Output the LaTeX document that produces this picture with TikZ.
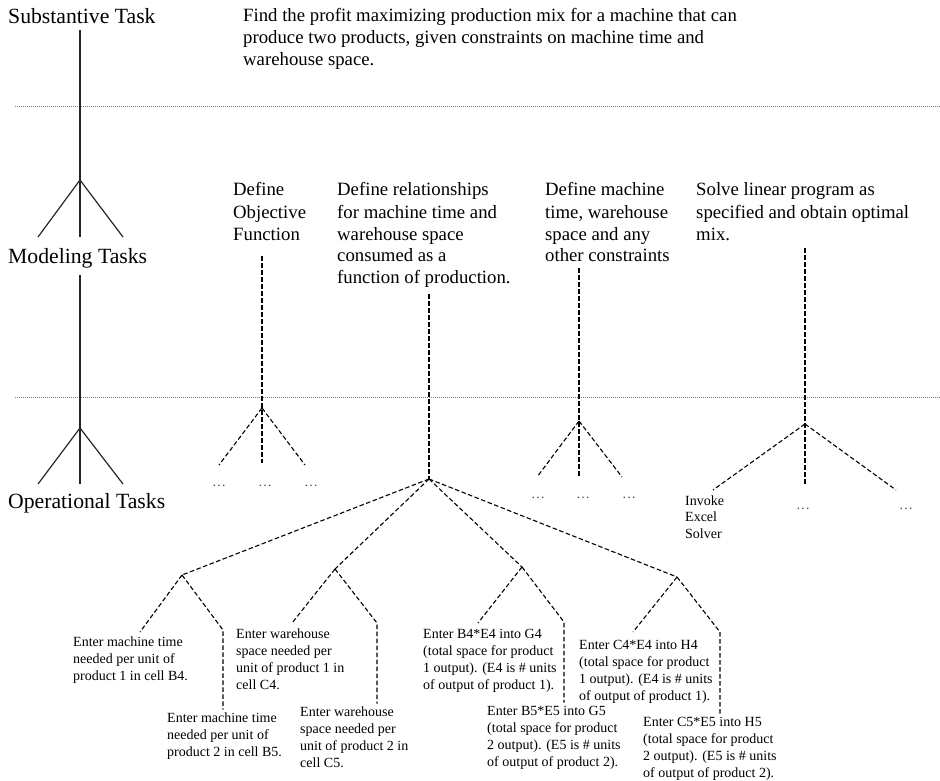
\documentclass[tikz,border=0pt]{standalone}
\usepackage{fontspec}
\setmainfont{Liberation Serif}
\newcommand\stackedlines[1]{\begin{tabular}[t]{@{}l@{}}#1\end{tabular}}
\begin{document}
\begin{tikzpicture}[x=1pt,y=-1pt,
  bigl/.style={font=\fontsize{21.7}{26}\selectfont, inner sep=0pt, anchor=base west},
  midl/.style={font=\fontsize{18.75}{22}\selectfont, inner sep=0pt, anchor=base west},
  smalll/.style={font=\fontsize{14}{17.3}\selectfont, inner sep=0pt, anchor=base west},
  invl/.style={font=\fontsize{14}{16.7}\selectfont, inner sep=0pt, anchor=base west},
  dotsl/.style={font=\fontsize{14}{17}\selectfont, inner sep=0pt, anchor=base, text=black!70},
  solidln/.style={line width=1.2pt, draw=black!85},
  dashln/.style={line width=1.1pt, dash pattern=on 4.5pt off 2.5pt},
  sepln/.style={line width=0.9pt, draw=black!50, dash pattern=on 1pt off 1pt}]

\useasboundingbox (0,0) rectangle (940,781);

% level labels
\node[bigl] (lblSub) at (8,24) {Substantive Task};
\node[bigl] (lblMod) at (8,263) {Modeling Tasks};
\node[bigl] (lblOp)  at (8,508) {Operational Tasks};

% level separators
\coordinate (sepA1) at (15,106);  \coordinate (sepA2) at (940,106);
\coordinate (sepB1) at (15,397);  \coordinate (sepB2) at (940,397);
\draw[sepln] (sepA1) -- (sepA2);
\draw[sepln] (sepB1) -- (sepB2);

% hierarchy legend on the left
\coordinate (sTop) at (80,30);   \coordinate (sApex) at (80,180);
\coordinate (sL) at (38,237);    \coordinate (sM) at (80,237);   \coordinate (sR) at (123,237);
\coordinate (mTop) at (80,275);  \coordinate (mApex) at (80,428);
\coordinate (mL) at (38,484);    \coordinate (mM) at (80,484);   \coordinate (mR) at (123,484);
\draw[solidln] (sTop) -- (sApex) -- (sM);
\draw[solidln] (sApex) -- (sL);
\draw[solidln] (sApex) -- (sR);
\draw[solidln] (mTop) -- (mApex) -- (mM);
\draw[solidln] (mApex) -- (mL);
\draw[solidln] (mApex) -- (mR);

% substantive task
\node[midl] (task) at (243,22) {\stackedlines{Find the profit maximizing production mix for a machine that can\\
produce two products, given constraints on machine time and\\
warehouse space.}};

% modeling tasks
\node[midl] (defObj) at (233,196) {\stackedlines{Define\\ Objective\\ Function}};
\node[midl] (defRel) at (337,196) {\stackedlines{Define relationships\\ for machine time and\\ warehouse space\\ consumed as a\\ function of production.}};
\node[midl] (defCon) at (545,196) {\stackedlines{Define machine\\ time, warehouse\\ space and any\\ other constraints}};
\node[midl] (solve)  at (696,196) {\stackedlines{Solve linear program as\\ specified and obtain optimal\\ mix.}};

% objective function branch
\coordinate (oTop) at (262,256); \coordinate (oApex) at (262,408);
\coordinate (oL) at (219,465);   \coordinate (oM) at (262,463);  \coordinate (oR) at (305,465);
\draw[dashln] (oTop) -- (oApex) -- (oM);
\draw[dashln] (oApex) -- (oL);
\draw[dashln] (oApex) -- (oR);
\node[dotsl] (oD1) at (219,486) {\ldots};
\node[dotsl] (oD2) at (265,486) {\ldots};
\node[dotsl] (oD3) at (311,486) {\ldots};

% constraints branch
\coordinate (kTop) at (579,268); \coordinate (kApex) at (579,421);
\coordinate (kL) at (537,477);   \coordinate (kM) at (579,476);  \coordinate (kR) at (622,477);
\draw[dashln] (kTop) -- (kApex) -- (kM);
\draw[dashln] (kApex) -- (kL);
\draw[dashln] (kApex) -- (kR);
\node[dotsl] (kD1) at (538,498) {\ldots};
\node[dotsl] (kD2) at (583,498) {\ldots};
\node[dotsl] (kD3) at (629,498) {\ldots};

% solver branch
\coordinate (vTop) at (805,248); \coordinate (vApex) at (805,424);
\coordinate (vL) at (713,490);   \coordinate (vM) at (805,485);  \coordinate (vR) at (896,490);
\draw[dashln] (vTop) -- (vApex) -- (vM);
\draw[dashln] (vApex) -- (vL);
\draw[dashln] (vApex) -- (vR);
\node[invl] (invoke) at (685,505) {\stackedlines{Invoke\\ Excel\\ Solver}};
\node[dotsl] (vD2) at (803,509) {\ldots};
\node[dotsl] (vD3) at (906,509) {\ldots};

% relationships branch
\coordinate (rTop) at (429,294); \coordinate (rApex) at (429,479);
\draw[dashln] (rTop) -- (rApex);
\coordinate (c1) at (182,575);
\coordinate (c2) at (335,569);
\coordinate (c3) at (522,567);
\coordinate (c4) at (677,577);
\foreach \c in {c1,c2,c3,c4} \draw[dashln] (rApex) -- (\c);

% operational steps
\node[smalll] (tB4) at (73,646)  {\stackedlines{Enter machine time\\ needed per unit of\\ product 1 in cell B4.}};
\node[smalll] (tB5) at (167,722) {\stackedlines{Enter machine time\\ needed per unit of\\ product 2 in cell B5.}};
\node[smalll] (tC4) at (236,638) {\stackedlines{Enter warehouse\\ space needed per\\ unit of product 1 in\\ cell C4.}};
\node[smalll] (tC5) at (300,716) {\stackedlines{Enter warehouse\\ space needed per\\ unit of product 2 in\\ cell C5.}};
\node[smalll] (tG4) at (423,638) {\stackedlines{Enter B4*E4 into G4\\ (total space for product\\ 1 output). (E4 is \# units\\ of output of product 1).}};
\node[smalll] (tG5) at (487,715) {\stackedlines{Enter B5*E5 into G5\\ (total space for product\\ 2 output). (E5 is \# units\\ of output of product 2).}};
\node[smalll] (tH4) at (579,649) {\stackedlines{Enter C4*E4 into H4\\ (total space for product\\ 1 output). (E4 is \# units\\ of output of product 1).}};
\node[smalll] (tH5) at (643,726) {\stackedlines{Enter C5*E5 into H5\\ (total space for product\\ 2 output). (E5 is \# units\\ of output of product 2).}};

% leg ends
\coordinate (c1L) at (140,632); \coordinate (c1R) at (223,630);
\coordinate (c2L) at (292,623); \coordinate (c2R) at (377,623);
\coordinate (c3L) at (478,623); \coordinate (c3R) at (564,622);
\coordinate (c4L) at (633,632); \coordinate (c4R) at (720,632);

\draw[dashln] (c1) -- (c1L);
\draw[dashln] (c1) -- (c1R) -- (c1R |- tB5.north);
\draw[dashln] (c2) -- (c2L);
\draw[dashln] (c2) -- (c2R) -- (c2R |- tC5.north);
\draw[dashln] (c3) -- (c3L);
\draw[dashln] (c3) -- (c3R) -- (c3R |- tG5.north);
\draw[dashln] (c4) -- (c4L);
\draw[dashln] (c4) -- (c4R) -- (c4R |- tH5.north);
\end{tikzpicture}
\end{document}
